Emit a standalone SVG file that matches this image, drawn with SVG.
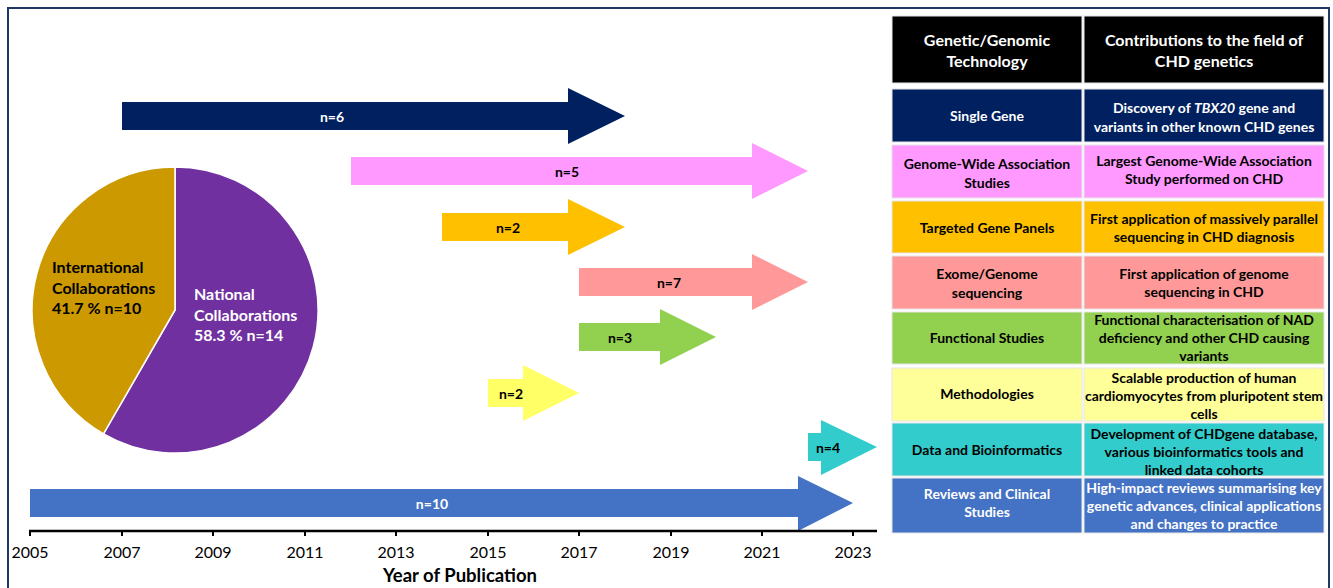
<svg xmlns="http://www.w3.org/2000/svg" width="1333" height="588" viewBox="0 0 1333 588">
<style>
text{font-family:Lato,"Open Sans","Liberation Sans",sans-serif;font-weight:bold}
.t{font-size:14px;text-anchor:middle;dominant-baseline:central}
.h{font-size:16px;text-anchor:middle;dominant-baseline:central;fill:#fff}
.w{fill:#fff}
.k{fill:#000}
.ax{font-size:16px;font-weight:normal;text-anchor:middle;fill:#000}
.lab{font-size:16px;dominant-baseline:central}
.cell{stroke:#e6e6e6;stroke-width:1}
</style>
<rect width="1333" height="588" fill="#fff"/>
<rect x="8" y="8" width="1321" height="590" fill="none" stroke="#1f3864" stroke-width="2"/>

<g id="pie">
<path d="M175,310 L175,167 A143,143 0 1 1 103.5,433.8 Z" fill="#7030A0" stroke="#fff" stroke-width="1.5"/>
<path d="M175,310 L103.5,433.8 A143,143 0 0 1 175,167 Z" fill="#CC9900" stroke="#fff" stroke-width="1.5"/>
<text class="lab k" x="52" y="266">International</text>
<text class="lab k" x="52" y="287">Collaborations</text>
<text class="lab k" x="52" y="307">41.7 % n=10</text>
<text class="lab w" x="194" y="293">National</text>
<text class="lab w" x="194" y="314">Collaborations</text>
<text class="lab w" x="194" y="334">58.3 % n=14</text>
</g>

<g id="connectors">
<g id="arrow-single"><polygon points="122,102 568,102 568,88 625,116 568,144 568,130 122,130" fill="#002060"/><text class="t w" x="332" y="116">n=6</text></g>
<g id="arrow-gwas"><polygon points="351,157 752,157 752,143 808,171 752,199 752,185 351,185" fill="#FF99FF"/><text class="t k" x="567" y="171">n=5</text></g>
<g id="arrow-panels"><polygon points="442,213 568,213 568,199 625,227 568,255 568,241 442,241" fill="#FFC000"/><text class="t k" x="508" y="227">n=2</text></g>
<g id="arrow-exome"><polygon points="579,268 752,268 752,254 808,282 752,310 752,296 579,296" fill="#FF9999"/><text class="t k" x="669" y="282">n=7</text></g>
<g id="arrow-functional"><polygon points="579,323 660,323 660,309 716,337 660,365 660,351 579,351" fill="#92D050"/><text class="t k" x="620" y="337">n=3</text></g>
<g id="arrow-methods"><polygon points="488,379 523,379 523,365 579,393 523,421 523,407 488,407" fill="#FFFF66"/><text class="t k" x="511" y="393">n=2</text></g>
<g id="arrow-data"><polygon points="808,433 821,433 821,420 877,447 821,475 821,461 808,461" fill="#33CCCC"/><text class="t k" x="828" y="447">n=4</text></g>
<g id="arrow-reviews"><polygon points="30,489 798,489 798,476 853,503 798,531 798,517 30,517" fill="#4472C4"/><text class="t w" x="432" y="503">n=10</text></g>
</g>

<g id="axis">
<line x1="29" y1="531" x2="877" y2="531" stroke="#000" stroke-width="2.5"/>
<g stroke="#000" stroke-width="2">
<line x1="30" y1="531" x2="30" y2="536"/><line x1="122" y1="531" x2="122" y2="536"/><line x1="213" y1="531" x2="213" y2="536"/><line x1="305" y1="531" x2="305" y2="536"/><line x1="396" y1="531" x2="396" y2="536"/><line x1="488" y1="531" x2="488" y2="536"/><line x1="579" y1="531" x2="579" y2="536"/><line x1="671" y1="531" x2="671" y2="536"/><line x1="762" y1="531" x2="762" y2="536"/><line x1="853" y1="531" x2="853" y2="536"/>
</g>
<text class="ax" x="30" y="558">2005</text><text class="ax" x="122" y="558">2007</text><text class="ax" x="213" y="558">2009</text><text class="ax" x="305" y="558">2011</text><text class="ax" x="396" y="558">2013</text><text class="ax" x="488" y="558">2015</text><text class="ax" x="579" y="558">2017</text><text class="ax" x="671" y="558">2019</text><text class="ax" x="762" y="558">2021</text><text class="ax" x="853" y="558">2023</text>
<text x="460" y="582" style="font-size:18.5px;text-anchor:middle;fill:#000">Year of Publication</text>
</g>

<g id="table">
<g id="row-header"><rect class="cell" x="892" y="16" width="190" height="67" fill="#000"/><rect class="cell" x="1084" y="16" width="240" height="67" fill="#000"/>
<text class="h" x="987" y="39">Genetic/Genomic</text><text class="h" x="987" y="60">Technology</text>
<text class="h" x="1204" y="39">Contributions to the field of</text><text class="h" x="1204" y="60">CHD genetics</text></g>

<g id="row-single"><rect class="cell" x="892" y="89" width="190" height="53" fill="#002060"/><rect class="cell" x="1084" y="89" width="240" height="53" fill="#002060"/>
<text class="t w" x="987" y="115">Single Gene</text>
<text class="t w" x="1204" y="107">Discovery of <tspan font-style="italic">TBX20</tspan> gene and</text><text class="t w" x="1204" y="126">variants in other known CHD genes</text></g>

<g id="row-gwas"><rect class="cell" x="892" y="145" width="190" height="53" fill="#FF99FF"/><rect class="cell" x="1084" y="145" width="240" height="53" fill="#FF99FF"/>
<text class="t k" x="987" y="163">Genome-Wide Association</text><text class="t k" x="987" y="182">Studies</text>
<text class="t k" x="1204" y="160">Largest Genome-Wide Association</text><text class="t k" x="1204" y="178">Study performed on CHD</text></g>

<g id="row-panels"><rect class="cell" x="892" y="201" width="190" height="52" fill="#FFC000"/><rect class="cell" x="1084" y="201" width="240" height="52" fill="#FFC000"/>
<text class="t k" x="987" y="227">Targeted Gene Panels</text>
<text class="t k" x="1204" y="218">First application of massively parallel</text><text class="t k" x="1204" y="236">sequencing in CHD diagnosis</text></g>

<g id="row-exome"><rect class="cell" x="892" y="256" width="190" height="53" fill="#FF9999"/><rect class="cell" x="1084" y="256" width="240" height="53" fill="#FF9999"/>
<text class="t k" x="987" y="273">Exome/Genome</text><text class="t k" x="987" y="292">sequencing</text>
<text class="t k" x="1204" y="273">First application of genome</text><text class="t k" x="1204" y="291">sequencing in CHD</text></g>

<g id="row-functional"><rect class="cell" x="892" y="312" width="190" height="52" fill="#92D050"/><rect class="cell" x="1084" y="312" width="240" height="52" fill="#92D050"/>
<text class="t k" x="987" y="337">Functional Studies</text>
<text class="t k" x="1204" y="319">Functional characterisation of NAD</text><text class="t k" x="1204" y="337">deficiency and other CHD causing</text><text class="t k" x="1204" y="355">variants</text></g>

<g id="row-methods"><rect class="cell" x="892" y="368" width="190" height="53" fill="#FFFF99"/><rect class="cell" x="1084" y="368" width="240" height="53" fill="#FFFF99"/>
<text class="t k" x="987" y="393">Methodologies</text>
<text class="t k" x="1204" y="377">Scalable production of human</text><text class="t k" x="1204" y="395">cardiomyocytes from pluripotent stem</text><text class="t k" x="1204" y="413">cells</text></g>

<g id="row-data"><rect class="cell" x="892" y="423" width="190" height="53" fill="#33CCCC"/><rect class="cell" x="1084" y="423" width="240" height="53" fill="#33CCCC"/>
<text class="t k" x="987" y="449">Data and Bioinformatics</text>
<text class="t k" x="1204" y="433">Development of CHDgene database,</text><text class="t k" x="1204" y="451">various bioinformatics tools and</text><text class="t k" x="1204" y="469">linked data cohorts</text></g>

<g id="row-reviews"><rect class="cell" x="892" y="478" width="190" height="55" fill="#4472C4"/><rect class="cell" x="1084" y="478" width="240" height="55" fill="#4472C4"/>
<text class="t w" x="987" y="493">Reviews and Clinical</text><text class="t w" x="987" y="511">Studies</text>
<text class="t w" x="1204" y="487">High-impact reviews summarising key</text><text class="t w" x="1204" y="505">genetic advances, clinical applications</text><text class="t w" x="1204" y="523">and changes to practice</text></g>
</g>
</svg>
